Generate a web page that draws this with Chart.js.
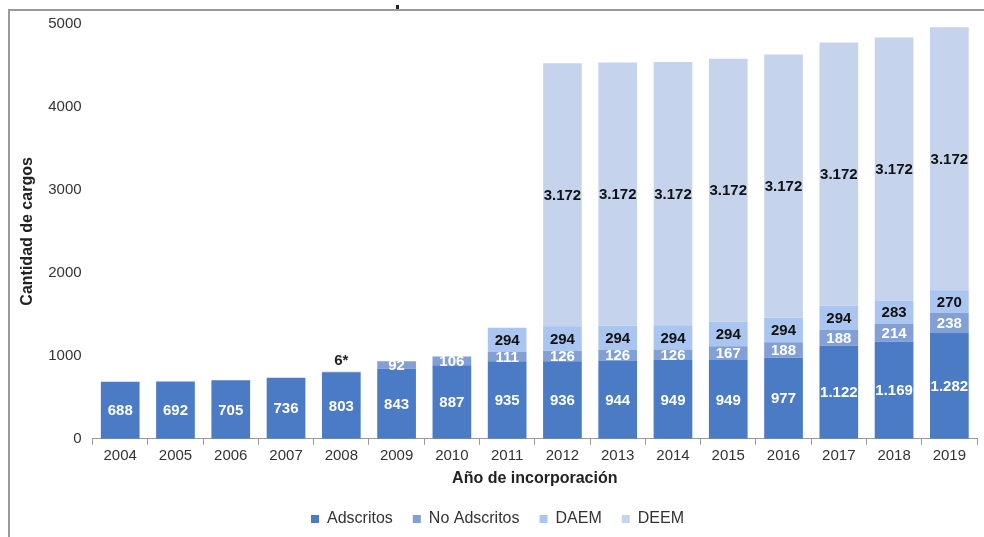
<!DOCTYPE html>
<html>
<head>
<meta charset="utf-8">
<script src="https://cdn.jsdelivr.net/npm/chart.js@4"></script>
<style>
  html, body { margin: 0; padding: 0; background: #fff; }
  #wrap { position: relative; width: 984px; height: 537px; }
  #frame { position: absolute; left: 8px; top: 9px; width: 976px; height: 528px;
           border-top: 2px solid #9a9a9a; border-left: 2px solid #9a9a9a; box-sizing: border-box; pointer-events: none; }
  #tick { position: absolute; left: 396px; top: 5px; width: 3px; height: 4px; background: #222; }
</style>
</head>
<body>
<div id="wrap">
  <canvas id="chart" width="984" height="537"></canvas>
  <div id="frame"></div>
  <div id="tick"></div>
</div>
<script>
// ── data ──
const years       = ['2004','2005','2006','2007','2008','2009','2010','2011','2012','2013','2014','2015','2016','2017','2018','2019'];
const adscritos   = [688, 692, 705, 736, 803, 843, 887, 935, 936, 944, 949, 949, 977, 1122, 1169, 1282];
const noAdscritos = [null, null, null, null, 6, 92, 106, 111, 126, 126, 126, 167, 188, 188, 214, 238];
const daem        = [null, null, null, null, null, null, null, 294, 294, 294, 294, 294, 294, 294, 283, 270];
const deem        = [null, null, null, null, null, null, null, null, 3172, 3172, 3172, 3172, 3172, 3172, 3172, 3172];
const yTicks      = [0, 1000, 2000, 3000, 4000, 5000];

const FONT = '"Liberation Sans", Arial, sans-serif';

const fmt = v => String(v).replace(/\B(?=(\d{3})+(?!\d))/g, '.');

/* bar value labels (no datalabels plugin available) */
const labelPlugin = {
  id: 'barLabels',
  afterDatasetsDraw(chart) {
    const ctx = chart.ctx;
    ctx.save();
    ctx.textAlign = 'center';
    ctx.textBaseline = 'middle';
    ctx.font = 'bold 15px ' + FONT;
    chart.data.datasets.forEach((ds, di) => {
      const meta = chart.getDatasetMeta(di);
      meta.data.forEach((bar, i) => {
        const v = ds.data[i];
        if (v == null || v === 0) return;
        const y = (bar.y + bar.base) / 2;
        if (ds.label === 'No Adscritos' && v < 20) {
          // tiny segment: label above the bar
          ctx.fillStyle = '#222';
          ctx.fillText(v + '*', bar.x, bar.y - 11);
          return;
        }
        ctx.fillStyle = ds.labelColor;
        ctx.fillText(fmt(v), bar.x, y + 1);
      });
    });
    ctx.restore();
  }
};

const mk = (label, data, color, labelColor) => ({
  label, data, backgroundColor: color, labelColor,
  barPercentage: 0.7, categoryPercentage: 1.0, borderWidth: 0
});

new Chart(document.getElementById('chart'), {
  type: 'bar',
  data: {
    labels: years,
    datasets: [
      mk('Adscritos',    adscritos,   '#4a7bc4', '#ffffff'),
      mk('No Adscritos', noAdscritos, '#829fd6', '#ffffff'),
      mk('DAEM',         daem,        '#a9c5f0', '#111111'),
      mk('DEEM',         deem,        '#c5d4ec', '#111111'),
    ]
  },
  options: {
    responsive: false,
    animation: false,
    layout: { padding: { left: 18, right: 7, top: 24, bottom: 0 } },
    plugins: {
      legend: {
        position: 'bottom',
        labels: { boxWidth: 8, boxHeight: 8, color: '#333', font: { family: FONT, size: 16 }, padding: 20 }
      },
      tooltip: { enabled: false }
    },
    scales: {
      x: {
        stacked: true,
        grid: { display: true, drawOnChartArea: false, drawTicks: true, tickLength: 6, color: '#9a9a9a', offset: true },
        border: { color: '#9a9a9a' },
        ticks: { color: '#333', font: { family: FONT, size: 15 }, padding: 2 },
        title: { display: true, text: 'Año de incorporación', color: '#222', font: { family: FONT, size: 16, weight: 'bold' }, padding: { top: 2, bottom: 3 } }
      },
      y: {
        stacked: true,
        min: 0, max: 5000,
        afterBuildTicks: axis => { axis.ticks = yTicks.map(v => ({ value: v })); },
        grid: { display: false, drawTicks: false, tickLength: 0 },
        border: { display: false },
        ticks: { color: '#333', font: { family: FONT, size: 15 }, padding: 11, callback: v => String(v) },
        title: { display: true, text: 'Cantidad de cargos', color: '#222', font: { family: FONT, size: 16, weight: 'bold' }, padding: { top: 0, bottom: 0 } }
      }
    }
  },
  plugins: [labelPlugin]
});
</script>
</body>
</html>
